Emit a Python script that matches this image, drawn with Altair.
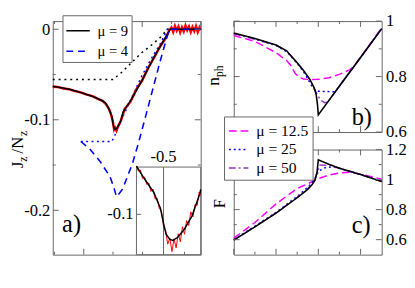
import altair as alt
import pandas as pd

FONT = "Liberation Serif, Times New Roman, Times, serif"
FRAME = "#666666"
BLUE = "#0000ff"
RED = "#ff0000"
MAG = "#ff00ff"
PURP = "#9932cc"
NB = "\u00a0"
LBL = 17

# ---------------- panel a : J_z/N_z versus epsilon ----------------
a_solid_eps = [-1.53, -1.35, -1.2, -1.05, -0.9, -0.8, -0.7, -0.63, -0.59, -0.546, -0.515, -0.5,
               -0.488, -0.47, -0.455, -0.432, -0.402, -0.364, -0.326, -0.2, 0.0, 0.2, 0.48, 0.7, 1.0]
a_solid_J = [-0.063, -0.065, -0.067, -0.070, -0.073, -0.0755, -0.0785, -0.0812, -0.0857, -0.0913,
             -0.0975, -0.1036, -0.1080, -0.1101, -0.1105, -0.1092, -0.1061, -0.1006, -0.0914,
             -0.079, -0.056, -0.031, 0.0, 0.0, 0.0]

a_red_eps = [-1.53, -1.45, -1.35, -1.25, -1.15, -1.05, -0.95, -0.85, -0.75, -0.68, -0.62, -0.57,
             -0.53, -0.5, -0.48, -0.46, -0.44, -0.41, -0.37, -0.3, -0.2, -0.1, 0.0, 0.1, 0.2, 0.3,
             0.4, 0.46, 0.5, 0.53, 0.56, 0.59, 0.62, 0.65, 0.68, 0.71, 0.74, 0.77, 0.8, 0.83, 0.86,
             0.89, 0.92, 0.95, 0.98, 1.0]
a_red_J = [-0.0635, -0.0637, -0.0655, -0.0662, -0.0684, -0.0698, -0.0723, -0.0738, -0.0772, -0.0790,
           -0.0826, -0.0878, -0.0948, -0.1030, -0.1110, -0.1090, -0.1120, -0.1065, -0.1020, -0.0880,
           -0.0800, -0.0665, -0.0565, -0.0430, -0.0318, -0.0195, -0.0100, -0.0015, 0.0020, -0.0030,
           0.0035, -0.0015, 0.0030, -0.0035, 0.0020, -0.0025, 0.0040, -0.0010, 0.0030, -0.0030,
           0.0025, -0.0020, 0.0035, -0.0030, 0.0020, -0.0010]

a_bdash_eps = [-1.05, -0.9, -0.72, -0.55, -0.48, -0.44, -0.4, -0.34, -0.17, -0.07, 0.1, 0.3, 0.46, 0.7, 1.0]
a_bdash_J = [-0.124, -0.132, -0.146, -0.163, -0.176, -0.185, -0.182, -0.177, -0.149, -0.127, -0.086,
             -0.037, 0.0, 0.0, 0.0]

a_kdot_eps = [-1.53, -0.5, -0.34, -0.17, -0.01, 0.15, 0.31, 0.43, 1.0]
a_kdot_J = [-0.0555, -0.0555, -0.047, -0.036, -0.026, -0.018, -0.009, 0.0, 0.0]

a_bdot_eps = [-1.05, -0.52, -0.46, -0.42, -0.34, -0.17, -0.01, 0.15, 0.31, 0.43, 1.0]
a_bdot_J = [-0.124, -0.124, -0.116, -0.110, -0.098, -0.074, -0.052, -0.033, -0.016, 0.0, 0.0]

# inset of panel a
ins_black_eps = [-0.629, -0.591, -0.546, -0.515, -0.5, -0.488, -0.47, -0.455, -0.432, -0.402,
                 -0.364, -0.326, -0.323]
ins_black_J = [-0.0806, -0.0857, -0.0913, -0.0975, -0.1036, -0.1080, -0.1101, -0.1105, -0.1092,
               -0.1061, -0.1006, -0.0914, -0.0900]
ins_red_eps = [-0.629, -0.62, -0.61, -0.60, -0.59, -0.58, -0.57, -0.56, -0.55, -0.54, -0.53, -0.52,
               -0.51, -0.50, -0.49, -0.48, -0.47, -0.46, -0.45, -0.44, -0.43, -0.42, -0.41, -0.40,
               -0.39, -0.38, -0.37, -0.36, -0.35, -0.34, -0.33, -0.323]
ins_red_J = [-0.0805, -0.0826, -0.0822, -0.0856, -0.0850, -0.0880, -0.0874, -0.0908, -0.0898, -0.0938,
             -0.0936, -0.0978, -0.0985, -0.1050, -0.1065, -0.1120, -0.1095, -0.1150, -0.1098, -0.1135,
             -0.1078, -0.1110, -0.1050, -0.1080, -0.1025, -0.1045, -0.0990, -0.1010, -0.0960, -0.0965,
             -0.0910, -0.0925]

# ---------------- panel b : n_ph versus e ----------------
b_black_e = [-0.4, -0.3, -0.2, -0.15, -0.1, -0.07, -0.04, -0.02, -0.01, -0.004, 0.0, 0.1, 0.2, 0.3]
b_black_n = [0.957, 0.937, 0.914, 0.893, 0.85, 0.822, 0.79, 0.76, 0.735, 0.70, 0.662, 0.766, 0.869, 0.973]
b_mag_e = [-0.4, -0.3, -0.2, -0.15, -0.13, -0.11, -0.09, -0.07, -0.03, 0.0, 0.05, 0.1, 0.15, 0.17, 0.2, 0.25, 0.3]
b_mag_n = [0.948, 0.927, 0.886, 0.858, 0.84, 0.812, 0.797, 0.791, 0.789, 0.79, 0.796, 0.808, 0.825,
           0.838, 0.87, 0.922, 0.976]
b_blue_e = [-0.4, -0.3, -0.2, -0.15, -0.1, -0.07, -0.05, -0.03, -0.015, 0.0, 0.08, 0.2, 0.3]
b_blue_n = [0.955, 0.935, 0.912, 0.89, 0.848, 0.818, 0.792, 0.765, 0.752, 0.747, 0.745, 0.868, 0.973]
b_purp_e = [-0.4, -0.3, -0.2, -0.15, -0.1, -0.07, -0.04, -0.02, -0.005, 0.01, 0.03, 0.045, 0.2, 0.3]
b_purp_n = [0.955, 0.935, 0.913, 0.892, 0.849, 0.821, 0.789, 0.758, 0.735, 0.716, 0.706, 0.708, 0.869, 0.973]

# ---------------- panel c : F versus e ----------------
c_black_e = [-0.4, -0.3, -0.2, -0.1, -0.05, -0.03, -0.015, -0.006, 0.0, 0.05, 0.1, 0.2, 0.3]
c_black_F = [0.597, 0.685, 0.776, 0.879, 0.935, 0.965, 1.0, 1.05, 1.132, 1.102, 1.076, 1.034, 0.987]
c_mag_e = [-0.4, -0.3, -0.2, -0.1, -0.05, 0.0, 0.05, 0.1, 0.15, 0.2, 0.3]
c_mag_F = [0.61, 0.714, 0.838, 0.941, 0.972, 1.007, 1.03, 1.044, 1.049, 1.036, 1.003]
c_blue_e = [-0.4, -0.3, -0.2, -0.1, -0.05, -0.02, 0.0, 0.03, 0.07, 0.1, 0.2, 0.3]
c_blue_F = [0.6, 0.69, 0.782, 0.888, 0.948, 0.995, 1.055, 1.078, 1.085, 1.075, 1.034, 0.988]
c_purp_e = [-0.4, -0.3, -0.2, -0.1, -0.05, -0.02, -0.005, 0.008, 0.03, 0.06, 0.1, 0.2, 0.3]
c_purp_F = [0.598, 0.687, 0.778, 0.882, 0.94, 0.985, 1.05, 1.097, 1.095, 1.09, 1.076, 1.034, 0.987]

a_names = ["μ = 9", "μ = 4"]
c_names = ["μ = 12.5", "μ = 25", "μ = 50"]

# tick values
a_x_major, a_x_minor = [-1, 0, 1], [-1.5, -0.5, 0.5]
a_y_major, a_y_minor = [0, -0.1, -0.2], [-0.05, -0.15]
ins_x_ticks, ins_y_ticks = [-0.6, -0.5, -0.4], [-0.1]
ins_x_label, ins_y_label = -0.5, -0.1
bc_x_major, bc_x_minor = [-0.4, -0.2, 0, 0.2], [-0.3, -0.1, 0.1]
b_y_major, b_y_minor = [0.6, 0.8, 1.0], [0.7, 0.9]
c_y_major, c_y_minor = [0.6, 0.8, 1.0, 1.2], [0.7, 0.9, 1.1]

# domains / layout
A_XDOM, A_YDOM = [-1.53, 1.0], [-0.249, 0.009]
INS_XDOM, INS_YDOM = [-0.629, -0.323], [-0.1162, -0.081]
BC_XDOM, B_YDOM, C_YDOM = [-0.4, 0.3], [0.6, 1.0], [0.5, 1.2]
A_W, A_H = 152, 240
B_W, B_H, C_H = 152, 114, 108
INS_XRANGE, INS_YRANGE = [86, 152], [240, 150]
MAJ, MIN = 6, 3
# y-title of panel a, anchored in panel-a data coordinates (left of the frame)
A_TITLE_POS = (-2.046, -0.1534)
A_SUB_POS = (-1.979, -0.1463)

one = pd.DataFrame({"k": [0]})


def xy(xs, ys):
    return pd.DataFrame({"x": xs, "y": ys})


def axis(**kw):
    base = dict(ticks=False, domain=False, grid=False, tickSize=0,
                labelFont=FONT, labelFontSize=LBL, labelColor="black",
                labelFlush=False, labelOverlap=False, labelExpr="'' + datum.value",
                titleFont=FONT, titleColor="black", titleFontWeight="normal")
    base.update(kw)
    return alt.Axis(**base)


def title_axis(text, size, x, y, align="left"):
    return axis(orient="left", labels=False, title=text, titleFontSize=size, titleAngle=270,
                titleAlign=align, titleBaseline="alphabetic", titleX=x, titleY=y)


def line(xs, ys, xsc, ysc, color, dash=None, width=1.5, xaxis=None, yaxis=None):
    kw = dict(color=color, strokeWidth=width)
    if dash is not None:
        kw["strokeDash"] = dash
    return alt.Chart(xy(xs, ys)).mark_line(**kw).encode(
        x=alt.X("x:Q", scale=xsc, axis=xaxis),
        y=alt.Y("y:Q", scale=ysc, axis=yaxis),
    )


def ticks(vals, side, xsc, ysc, xdom, ydom, length, yaxis=None):
    d = pd.DataFrame({"v": vals})
    if side in ("bottom", "top"):
        edge = ydom[0] if side == "bottom" else ydom[1]
        off = -length if side == "bottom" else length
        return alt.Chart(d).mark_rule(color=FRAME, strokeWidth=1, y2Offset=off).encode(
            x=alt.X("v:Q", scale=xsc, axis=None),
            y=alt.YDatum(edge, type="quantitative", scale=ysc, axis=None),
            y2=alt.Y2Datum(edge),
        )
    edge = xdom[0] if side == "left" else xdom[1]
    off = length if side == "left" else -length
    return alt.Chart(d).mark_rule(color=FRAME, strokeWidth=1, x2Offset=off).encode(
        y=alt.Y("v:Q", scale=ysc, axis=yaxis),
        x=alt.XDatum(edge, type="quantitative", scale=xsc, axis=None),
        x2=alt.X2Datum(edge),
    )


def frame_ticks(xmaj, xmin, ymaj, ymin, xsc, ysc, xdom, ydom, left_major_axis=None, left_minor_axis=None):
    out = []
    for side in ("bottom", "top"):
        out.append(ticks(xmaj, side, xsc, ysc, xdom, ydom, MAJ))
        out.append(ticks(xmin, side, xsc, ysc, xdom, ydom, MIN))
    out.append(ticks(ymaj, "left", xsc, ysc, xdom, ydom, MAJ, yaxis=left_major_axis))
    out.append(ticks(ymin, "left", xsc, ysc, xdom, ydom, MIN, yaxis=left_minor_axis))
    out.append(ticks(ymaj, "right", xsc, ysc, xdom, ydom, MAJ))
    out.append(ticks(ymin, "right", xsc, ysc, xdom, ydom, MIN))
    return out


def text_at(txt, x, y, xsc, ysc, size=25, align="left", baseline="alphabetic", dx=0, dy=0, angle=0):
    return alt.Chart(one).mark_text(text=txt, font=FONT, fontSize=size, align=align,
                                    baseline=baseline, color="black", dx=dx, dy=dy,
                                    angle=angle).encode(
        x=alt.XDatum(x, type="quantitative", scale=xsc, axis=None),
        y=alt.YDatum(y, type="quantitative", scale=ysc, axis=None),
    )


def legend(x, y, size, rowpad, font, pad):
    return alt.Legend(orient="none", legendX=x, legendY=y, title=None,
                      symbolType="stroke", symbolSize=size, symbolStrokeWidth=1.5,
                      labelFont=FONT, labelFontSize=font, labelColor="black", labelOffset=7,
                      fillColor="white", strokeColor=FRAME, padding=pad, rowPadding=rowpad)


# ---------------- build panel a ----------------
ax = alt.Scale(domain=A_XDOM, nice=False, zero=False)
ay = alt.Scale(domain=A_YDOM, nice=False, zero=False)

a_df = pd.concat([xy(a_solid_eps, a_solid_J).assign(s=a_names[0]),
                  xy(a_bdash_eps, a_bdash_J).assign(s=a_names[1])], ignore_index=True)
a_leg = legend(10, -6, 576, -3, 15, 3)
a_lines = alt.Chart(a_df).mark_line(strokeWidth=1.6).encode(
    x=alt.X("x:Q", scale=ax, axis=axis(orient="bottom", values=a_x_major, labelPadding=5,
                                       title="ε", titleFontSize=17, titleY=24,
                                       titleBaseline="alphabetic")),
    y=alt.Y("y:Q", scale=ay, axis=axis(orient="left", values=a_y_major, labelPadding=3,
                                       title=None)),
    color=alt.Color("s:N", scale=alt.Scale(domain=a_names, range=["black", BLUE]), legend=a_leg),
    strokeDash=alt.StrokeDash("s:N", scale=alt.Scale(domain=a_names, range=[[1, 0], [7, 5]]),
                              legend=a_leg),
)

a_main = alt.layer(
    line(a_kdot_eps, a_kdot_J, ax, ay, "black", dash=[2, 4]),
    line(a_bdot_eps, a_bdot_J, ax, ay, BLUE, dash=[2, 3.5]),
    line(a_red_eps, a_red_J, ax, ay, RED, width=2.5),
    a_lines,
    *frame_ticks(a_x_major, a_x_minor, a_y_major, a_y_minor, ax, ay, A_XDOM, A_YDOM),
    text_at("a)", -1.37, -0.224, ax, ay),
    text_at("J" + NB + NB + "/N", A_TITLE_POS[0], A_TITLE_POS[1], ax, ay, size=17, angle=270),
    text_at("z" + NB * 7 + "z", A_SUB_POS[0], A_SUB_POS[1], ax, ay, size=12, angle=270),
).resolve_axis(y="independent")

ix = alt.Scale(domain=INS_XDOM, range=INS_XRANGE, nice=False, zero=False)
iy = alt.Scale(domain=INS_YDOM, range=INS_YRANGE, nice=False, zero=False)
ins_frame = alt.Chart(one).mark_rect(fill="white", stroke=FRAME, strokeWidth=1).encode(
    x=alt.XDatum(INS_XDOM[0], type="quantitative", scale=ix, axis=None),
    x2=alt.X2Datum(INS_XDOM[1]),
    y=alt.YDatum(INS_YDOM[0], type="quantitative", scale=iy, axis=None),
    y2=alt.Y2Datum(INS_YDOM[1]),
)
ins_vline = alt.Chart(one).mark_rule(color=FRAME, strokeWidth=1).encode(
    x=alt.XDatum(ins_x_label, type="quantitative", scale=ix, axis=None),
    y=alt.YDatum(INS_YDOM[0], type="quantitative", scale=iy, axis=None),
    y2=alt.Y2Datum(INS_YDOM[1]),
)
inset = alt.layer(
    ins_frame,
    ins_vline,
    ticks(ins_x_ticks, "bottom", ix, iy, INS_XDOM, INS_YDOM, MIN),
    ticks(ins_y_ticks, "left", ix, iy, INS_XDOM, INS_YDOM, 5),
    line(ins_red_eps, ins_red_J, ix, iy, RED, width=1),
    line(ins_black_eps, ins_black_J, ix, iy, "black", width=1.5),
    text_at(str(ins_x_label), ins_x_label, INS_YDOM[1], ix, iy, size=LBL, align="center",
            baseline="bottom", dy=-1),
    text_at(str(ins_y_label), INS_XDOM[0], ins_y_label, ix, iy, size=LBL, align="right",
            baseline="middle", dx=-3),
)

panel_a = alt.layer(a_main, inset).resolve_scale(x="independent", y="independent").properties(
    width=A_W, height=A_H)

# ---------------- build panel b ----------------
bx = alt.Scale(domain=BC_XDOM, nice=False, zero=False)
by = alt.Scale(domain=B_YDOM, nice=False, zero=False)
b_title = title_axis("n", 18, -16, 66)
b_sub = title_axis("ph", 12, -11.5, 57)
panel_b = alt.layer(
    line(b_mag_e, b_mag_n, bx, by, MAG, dash=[8, 4]),
    line(b_blue_e, b_blue_n, bx, by, BLUE, dash=[2, 3]),
    line(b_purp_e, b_purp_n, bx, by, PURP, dash=[7, 3, 2, 3]),
    line(b_black_e, b_black_n, bx, by, "black", width=1.6,
         yaxis=axis(orient="right", values=b_y_major, labelPadding=4, title=None)),
    *frame_ticks(bc_x_major, bc_x_minor, b_y_major, b_y_minor, bx, by, BC_XDOM, B_YDOM,
                 left_major_axis=b_title, left_minor_axis=b_sub),
    text_at("b)", 0.158, 0.626, bx, by),
).resolve_axis(y="independent").properties(width=B_W, height=B_H)

# ---------------- build panel c ----------------
cy = alt.Scale(domain=C_YDOM, nice=False, zero=False)
c_df = pd.concat([xy(c_mag_e, c_mag_F).assign(s=c_names[0]),
                  xy(c_blue_e, c_blue_F).assign(s=c_names[1]),
                  xy(c_purp_e, c_purp_F).assign(s=c_names[2])], ignore_index=True)
c_leg = legend(-10, -34, 400, -1, 16, 4)
c_lines = alt.Chart(c_df).mark_line(strokeWidth=1.5).encode(
    x=alt.X("x:Q", scale=bx, axis=None),
    y=alt.Y("y:Q", scale=cy, axis=None),
    color=alt.Color("s:N", scale=alt.Scale(domain=c_names, range=[MAG, BLUE, PURP]), legend=c_leg),
    strokeDash=alt.StrokeDash("s:N", scale=alt.Scale(domain=c_names,
                                                     range=[[8, 4], [2, 3], [7, 3, 2, 3]]),
                              legend=c_leg),
)
c_title = title_axis("F", 17, -10, 55, align="center")
panel_c = alt.layer(
    c_lines,
    line(c_black_e, c_black_F, bx, cy, "black", width=1.6,
         xaxis=axis(orient="bottom", values=bc_x_major, labelPadding=5, title="e",
                    titleFontSize=17, titleY=24, titleBaseline="alphabetic"),
         yaxis=axis(orient="right", values=c_y_major, labelPadding=4, title=None)),
    *frame_ticks(bc_x_major, bc_x_minor, c_y_major, c_y_minor, bx, cy, BC_XDOM, C_YDOM,
                 left_major_axis=c_title),
    text_at("c)", 0.158, 0.645, bx, cy),
).resolve_axis(y="independent").properties(width=B_W, height=C_H)

right = alt.vconcat(panel_b, panel_c, spacing=18, bounds="flush").resolve_scale(
    color="independent", strokeDash="independent")

chart = alt.hconcat(panel_a, right, spacing=34, bounds="flush").resolve_scale(
    color="independent", strokeDash="independent"
).properties(padding=0).configure_view(stroke=FRAME, strokeWidth=1)

chart.save("out.html", embed_options={"renderer": "svg", "actions": False})
